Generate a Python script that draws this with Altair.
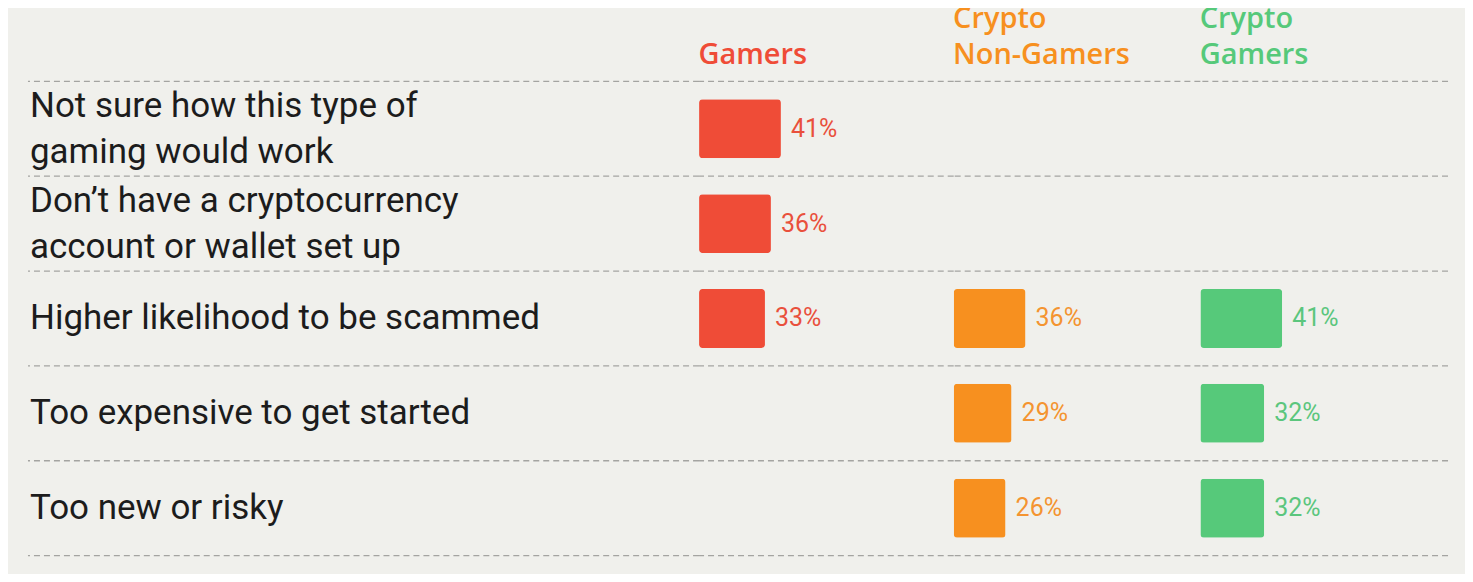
import altair as alt
import pandas as pd

# ---------------- data ----------------
rows = [
    "Not sure how this type of\ngaming would work",
    "Don\u2019t have a cryptocurrency\naccount or wallet set up",
    "Higher likelihood to be scammed",
    "Too expensive to get started",
    "Too new or risky",
]
groups = ["Gamers", "Crypto Non-Gamers", "Crypto Gamers"]
headers = [[" ", "Gamers"], ["Crypto", "Non-Gamers"], ["Crypto", "Gamers"]]
gamers = [41, 36, 33, None, None]
crypto_non_gamers = [None, None, 36, 29, 26]
crypto_gamers = [None, None, 41, 32, 32]
series = [gamers, crypto_non_gamers, crypto_gamers]

# ---------------- styles ----------------
bar_colors = ["#EF4C37", "#F7901F", "#56C97A"]
text_colors = ["#E9503C", "#F49430", "#5BC67D"]
BG = "#F0F0EC"
RULE = "#A4A4A1"
ROW_H = 95
H = ROW_H * len(rows)
PX_PER_PCT = 2
label_w = 672
panel_w = [255, 247, 248]
FONT = "Roboto"
HFONT = "Open Sans"
LABEL_LH = 46

yscale = alt.Scale(domain=rows, paddingInner=0, paddingOuter=0)


def title(lines, color):
    return alt.TitleParams(
        lines, anchor="start", baseline="bottom", fontSize=29, fontWeight=600,
        color=color, font=HFONT, lineHeight=36, offset=-18,
    )


def rule_layers(df):
    base = alt.Chart(df)
    top = base.mark_rule(color=RULE, strokeDash=[6, 4], strokeWidth=1.3).encode(
        y=alt.Y("row:N", bandPosition=0, scale=yscale, axis=None, sort=rows)
    )
    bottom = base.transform_filter(alt.datum.row == rows[-1]).mark_rule(
        color=RULE, strokeDash=[6, 4], strokeWidth=1.3
    ).encode(y=alt.Y("row:N", bandPosition=1, scale=yscale, axis=None, sort=rows))
    return [top, bottom]


# label panel
label_df = pd.DataFrame({"row": rows})
text_style = dict(
    align="left", baseline="middle", fontSize=35, font=FONT, fontWeight=400,
    color="#1c1c1c", lineBreak="\n", lineHeight=LABEL_LH,
)
lab_enc = dict(
    x=alt.value(2),
    y=alt.Y("row:N", scale=yscale, axis=None, sort=rows),
    text="row:N",
)
single = alt.Chart(label_df).transform_filter(
    "indexof(datum.row, '\\n') < 0"
).mark_text(**text_style).encode(**lab_enc)
double = alt.Chart(label_df).transform_filter(
    "indexof(datum.row, '\\n') >= 0"
).mark_text(dy=-LABEL_LH / 2, **text_style).encode(**lab_enc)
label_panel = alt.layer(*rule_layers(label_df), single, double).properties(
    width=label_w, height=H, title=title([" ", " "], BG)
)

panels = [label_panel]
for i, vals in enumerate(series):
    df = pd.DataFrame({"row": rows, "value": vals})
    w = panel_w[i]
    xs = alt.Scale(domain=[0, w / PX_PER_PCT])
    base = alt.Chart(df).transform_filter("isValid(datum.value)")
    bars = base.mark_bar(size=59, cornerRadius=3.5, color=bar_colors[i]).encode(
        x=alt.X("value:Q", scale=xs, axis=None),
        y=alt.Y("row:N", scale=yscale, axis=None, sort=rows),
    )
    txt = base.transform_calculate(label="datum.value + '%'").mark_text(
        align="left", baseline="middle", dx=10, fontSize=25, font=FONT,
        fontWeight=400, color=text_colors[i],
    ).encode(
        x=alt.X("value:Q", scale=xs, axis=None),
        y=alt.Y("row:N", scale=yscale, axis=None, sort=rows),
        text="label:N",
    )
    panels.append(
        alt.layer(*rule_layers(df), bars, txt).properties(
            width=w, height=H, title=title(headers[i], bar_colors[i])
        )
    )

chart = alt.hconcat(*panels, spacing=0, bounds="flush").configure_view(
    stroke=None
).properties(
    background=BG,
    padding={"left": 19, "top": -4, "right": 16, "bottom": 17},
)

chart.save("out.html", embed_options={"renderer": "svg", "actions": False})
